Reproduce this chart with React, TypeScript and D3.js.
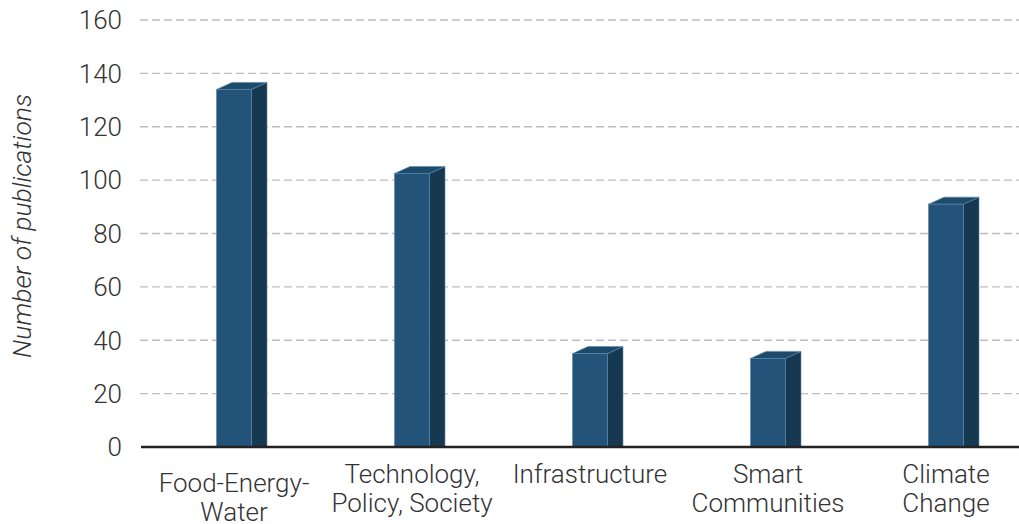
import React from "react";
import * as d3 from "d3";

const categories = ["Food-Energy-Water", "Technology, Policy, Society", "Infrastructure", "Smart Communities", "Climate Change"];
const labelLines = [["Food-Energy-", "Water"], ["Technology,", "Policy, Society"], ["Infrastructure"], ["Smart", "Communities"], ["Climate", "Change"]];
const values = [134, 102.5, 35, 33.2, 91];
const yTicks = [0, 20, 40, 60, 80, 100, 120, 140, 160];
const yTitle = "Number of publications";

const W = 1019, H = 524;
const FONT = "Roboto, 'Noto Sans', sans-serif";

export default function App() {
  const y = d3.scaleLinear().domain([0, 160]).range([447, 20]);
  const x = d3.scalePoint<string>().domain(categories).range([234, 946]);
  const bw = 35, dx = 15.5, dy = 7;
  const front = "#245379", side = "#163850", top = "#1d4b6c", edge = "#5a86ab";

  return (
    <svg width={W} height={H} style={{ position: "absolute", left: 0, top: 0, background: "#fff" }}>
      {yTicks.filter(t => t > 0).map(t => (
        <line key={t} x1={140} x2={1019} y1={y(t)} y2={y(t)} stroke="#bdbdbd" strokeWidth={1.3} strokeDasharray="8 4" />
      ))}
      {yTicks.map(t => (
        <text key={"l" + t} x={122} y={y(t)} dy="0.36em" textAnchor="end" fontFamily={FONT} fontWeight={300} fontSize={26} fill="#333">{t}</text>
      ))}
      <text transform={`translate(31,${226}) rotate(-90)`} textAnchor="middle" fontFamily={FONT} fontWeight={300} fontStyle="italic" fontSize={26.5} fill="#333">{yTitle}</text>
      {categories.map((c, i) => {
        const cx = x(c)!;
        const x0 = cx - bw / 2, x1 = cx + bw / 2;
        const y0 = y(0), yt = y(values[i]);
        return (
          <g key={c}>
            <polygon points={`${x1},${y0} ${x1 + dx},${y0} ${x1 + dx},${yt - dy} ${x1},${yt}`} fill={side} stroke={edge} strokeWidth={0.6} />
            <polygon points={`${x0},${yt} ${x0 + dx},${yt - dy} ${x1 + dx},${yt - dy} ${x1},${yt}`} fill={top} stroke={edge} strokeWidth={0.6} />
            <rect x={x0} y={yt} width={bw} height={y0 - yt} fill={front} stroke={edge} strokeWidth={0.6} />
          </g>
        );
      })}
      <line x1={141} x2={1019} y1={y(0)} y2={y(0)} stroke="#222" strokeWidth={2.5} />
      {categories.map((c, i) => {
        const cx = x(c)!;
        const base = i === 0 ? 492 : 483;
        return (
          <text key={"c" + c} textAnchor="middle" fontFamily={FONT} fontWeight={300} fontSize={26} fill="#333">
            {labelLines[i].map((ln, j) => (
              <tspan key={j} x={cx} y={base + j * 29}>{ln}</tspan>
            ))}
          </text>
        );
      })}
    </svg>
  );
}
